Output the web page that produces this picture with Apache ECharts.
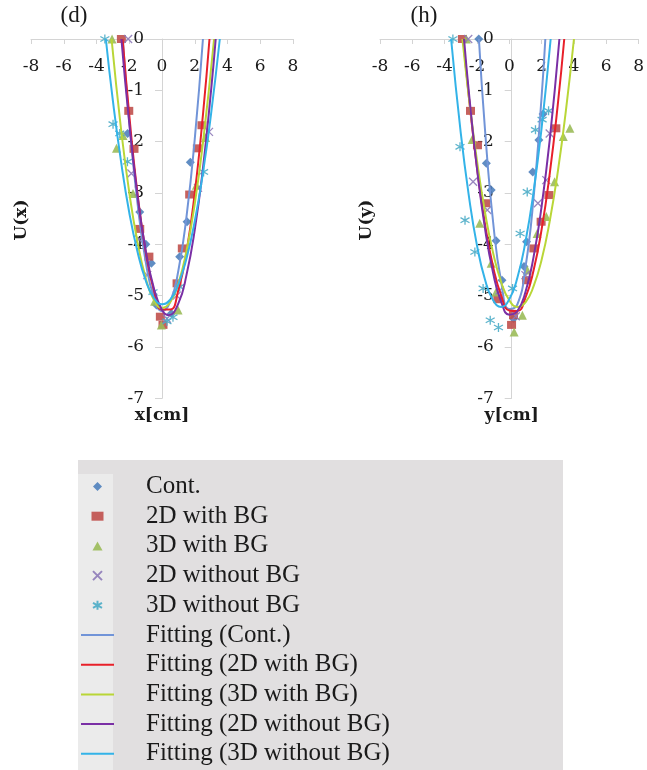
<!DOCTYPE html>
<html>
<head>
<meta charset="utf-8">
<script src="https://cdn.jsdelivr.net/npm/echarts/dist/echarts.min.js"></script>
<style>
html,body{margin:0;padding:0;background:#fff;}
#chart{width:647px;height:770px;}
</style>
</head>
<body>
<div id="chart"></div>
<script>
// ---------- names ----------
const markerNames = ['Cont.', '2D with BG', '3D with BG', '2D without BG', '3D without BG'];
const fitNames = ['Fitting (Cont.)', 'Fitting (2D with BG)', 'Fitting (3D with BG)', 'Fitting (2D without BG)', 'Fitting (3D without BG)'];
const panelTitles = ['(d)', '(h)'];
const yAxisTitles = ['U(x)', 'U(y)'];
const posAxisTitles = ['x[cm]', 'y[cm]'];

// ---------- panel (d): measured points [position cm, U] ----------
const dCont = [[-2.1,-1.84],[-1.36,-3.37],[-0.99,-4.00],[-0.65,-4.37],[-0.34,-5.18],[0.57,-5.35],[1.08,-4.24],[1.53,-3.56],[1.73,-2.40]];
const d2DBG = [[-2.48,0],[-2.03,-1.40],[-1.71,-2.14],[-1.36,-3.70],[-0.8,-4.24],[-0.1,-5.41],[0.06,-5.57],[0.92,-4.76],[1.24,-4.08],[1.69,-3.03],[2.16,-2.13],[2.44,-1.68]];
const d3DBG = [[-3.05,0],[-2.78,-2.13],[-2.38,-1.88],[-1.77,-3.01],[-0.45,-5.11],[-0.04,-5.57],[0.98,-5.28],[2.10,-2.85],[2.66,-1.92]];
const d2DNoBG = [[-2.07,0],[-1.87,-2.62],[-1.4,-3.9],[-0.9,-4.6],[0.3,-5.45],[0.9,-5.0],[2.2,-2.9],[2.87,-1.81]];
const d3DNoBG = [[-3.49,0],[-2.99,-1.66],[-2.58,-1.84],[-2.11,-2.39],[-0.55,-4.93],[0.3,-5.5],[0.67,-5.42],[1.08,-4.83],[2.54,-2.59]];

// ---------- panel (d): fitted curves ----------
const dFitCont = [[-2.4,0],[-2,-1.60],[-1.5,-3.19],[-1,-4.33],[-0.5,-5.03],[0,-5.30],[0.5,-5.12],[1,-4.51],[1.5,-3.45],[2,-1.95],[2.5,0]];
const dFit2DBG = [[-2.4,0],[-2,-1.48],[-1.5,-3.00],[-1,-4.14],[-0.5,-4.89],[0,-5.27],[0.5,-5.27],[1,-4.89],[1.5,-4.14],[2,-3.00],[2.5,-1.48],[2.9,0]];
const dFit3DBG = [[-3.08,0],[-2.5,-1.76],[-2,-2.99],[-1.5,-3.95],[-1,-4.65],[-0.5,-5.08],[0,-5.24],[0.5,-5.13],[1,-4.76],[1.5,-4.12],[2,-3.21],[2.5,-2.03],[3.18,0]];
const dFit2DNoBG = [[-2.48,0],[-2,-1.64],[-1.5,-3.04],[-1,-4.11],[-0.5,-4.85],[0,-5.28],[0.4,-5.38],[1,-5.15],[1.5,-4.59],[2,-3.72],[2.5,-2.52],[3,-0.99],[3.28,0]];
const dFit3DNoBG = [[-3.43,0],[-3,-1.20],[-2.5,-2.39],[-2,-3.38],[-1.5,-4.14],[-1,-4.70],[-0.5,-5.04],[0,-5.17],[0.5,-5.08],[1,-4.78],[1.5,-4.27],[2,-3.55],[2.5,-2.61],[3,-1.45],[3.53,0]];

// ---------- panel (h): measured points ----------
const hCont = [[-1.89,0],[-1.42,-2.42],[-1.12,-2.94],[-0.82,-3.93],[-0.45,-4.7],[0.26,-5.45],[0.91,-4.43],[1.07,-3.95],[1.45,-2.59],[1.83,-1.97],[2.09,-1.46]];
const h2DBG = [[-2.9,0],[-2.40,-1.40],[-1.97,-2.07],[-1.46,-3.20],[-0.71,-5.07],[0.14,-5.57],[0.26,-5.38],[1.07,-4.70],[1.52,-4.08],[1.97,-3.56],[2.45,-3.04],[2.88,-1.74]];
const h3DBG = [[-2.66,0],[-2.30,-1.96],[-1.83,-3.59],[-1.12,-4.37],[-0.82,-4.93],[0.3,-5.71],[0.81,-5.38],[1.11,-4.50],[1.72,-3.79],[2.29,-3.46],[2.80,-2.78],[3.34,-1.90],[3.75,-1.74]];
const h2DNoBG = [[-2.54,0],[-2.24,-2.78],[-1.36,-3.33],[-0.6,-4.9],[0.4,-5.4],[1.0,-4.6],[1.77,-3.20],[2.29,-2.75],[2.50,-1.84]];
const h3DNoBG = [[-3.49,0],[-3.05,-2.10],[-2.74,-3.53],[-2.13,-4.15],[-1.62,-4.86],[-1.18,-5.48],[-0.67,-5.62],[0.2,-4.86],[0.67,-3.79],[1.11,-2.98],[1.62,-1.77],[2.03,-1.57],[2.43,-1.40]];

// ---------- panel (h): fitted curves ----------
const hFitCont = [[-1.88,0],[-1.5,-1.78],[-1,-3.57],[-0.5,-4.73],[0,-5.26],[0.5,-5.17],[1,-4.45],[1.5,-3.10],[2,-1.12],[2.23,0]];
const hFit2DBG = [[-2.85,0],[-2.5,-1.13],[-2,-2.50],[-1.5,-3.61],[-1,-4.44],[-0.5,-5.00],[0,-5.29],[0.5,-5.30],[1,-5.04],[1.5,-4.51],[2,-3.71],[2.5,-2.63],[3,-1.28],[3.4,0]];
const hFit3DBG = [[-2.9,0],[-2.5,-1.14],[-2,-2.37],[-1.5,-3.38],[-1,-4.17],[-0.5,-4.74],[0,-5.09],[0.5,-5.22],[1,-5.13],[1.5,-4.82],[2,-4.30],[2.5,-3.55],[3,-2.59],[3.5,-1.40],[4.0,0]];
const hFit2DNoBG = [[-2.8,0],[-2.5,-1.04],[-2,-2.52],[-1.5,-3.70],[-1,-4.56],[-0.5,-5.12],[0,-5.37],[0.5,-5.30],[1,-4.93],[1.5,-4.25],[2,-3.26],[2.5,-1.97],[3.1,0]];
const hFit3DNoBG = [[-3.6,0],[-3,-1.84],[-2.5,-3.06],[-2,-4.02],[-1.5,-4.69],[-1,-5.09],[-0.5,-5.22],[0,-5.07],[0.5,-4.65],[1,-3.95],[1.5,-2.98],[2,-1.73],[2.56,0]];

// ---------- axis ranges ----------
const posMin = -8, posMax = 8, posStep = 2;
const uMin = -7, uMax = 0, uStep = 1;

// ---------- styles ----------
const markerStyles = [
  {symbol: 'diamond', size: 9, fill: '#4f81bd', legendIcon: 'path://M5,0L10,5L5,10L0,5Z'},
  {symbol: 'rect', size: [9, 8], fill: '#c0504d', legendIcon: 'path://M0,0L12,0L12,9L0,9Z'},
  {symbol: 'triangle', size: 9, fill: '#9bbb59', legendIcon: 'path://M5,0L10,9L0,9Z'},
  {symbol: 'path://M0,0L10,10M10,0L0,10', size: 8, stroke: '#8d7ab8'},
  {symbol: 'path://M5,0L5,10M0,2.2L10,7.8M0,7.8L10,2.2', size: 9, stroke: '#4bacc6'}
];
const fitColors = ['#7194d8', '#e8202a', '#b9d637', '#7a2fa5', '#33b3e8'];

const panelMarkers = [[dCont, d2DBG, d3DBG, d2DNoBG, d3DNoBG], [hCont, h2DBG, h3DBG, h2DNoBG, h3DNoBG]];
const panelFits = [[dFitCont, dFit2DBG, dFit3DBG, dFit2DNoBG, dFit3DNoBG], [hFitCont, hFit2DBG, hFit3DBG, hFit2DNoBG, hFit3DNoBG]];

const serifTick = 'DejaVu Serif';
const grids = [
  {left: 31, top: 39, width: 262, height: 359.3},
  {left: 380, top: 39, width: 263.4, height: 359.3}
];

const xAxes = [], yAxes = [], series = [];
for (let p = 0; p < 2; p++) {
  xAxes.push({
    gridIndex: p, type: 'value', min: posMin, max: posMax, interval: posStep,
    position: 'top',
    axisLine: {onZero: false, lineStyle: {color: '#d4d4d4', width: 1}},
    axisTick: {show: true, inside: true, length: 5, lineStyle: {color: '#d4d4d4'}},
    axisLabel: {inside: true, margin: 19, fontFamily: serifTick, fontSize: 17, color: '#1a1a1a'},
    splitLine: {show: false}
  });
  yAxes.push({
    gridIndex: p, type: 'value', min: uMin, max: uMax, interval: uStep,
    position: 'left', offset: -grids[p].width / 2,
    axisLine: {onZero: false, lineStyle: {color: '#d4d4d4', width: 1}},
    axisTick: {show: true, length: 7, lineStyle: {color: '#d4d4d4'}},
    axisLabel: {margin: 18, fontFamily: serifTick, fontSize: 17, color: '#1a1a1a'},
    splitLine: {show: false},
    name: posAxisTitles[p], nameLocation: 'start', nameGap: 6,
    nameTextStyle: {fontFamily: serifTick, fontSize: 17, color: '#1a1a1a', fontWeight: 'bold'}
  });
  for (let k = 0; k < 5; k++) {
    const ms = markerStyles[k];
    series.push({
      type: 'scatter', name: markerNames[k], xAxisIndex: p, yAxisIndex: p,
      data: panelMarkers[p][k], symbol: ms.symbol, symbolSize: ms.size,
      itemStyle: ms.stroke ? {color: 'rgba(0,0,0,0)', borderColor: ms.stroke, borderWidth: 1.3, opacity: 0.9}
                           : {color: ms.fill, opacity: 0.9},
      z: 2
    });
  }
  for (let k = 0; k < 5; k++) {
    series.push({
      type: 'line', name: fitNames[k], xAxisIndex: p, yAxisIndex: p,
      data: panelFits[p][k], smooth: true, symbol: 'none', showSymbol: false,
      lineStyle: {color: fitColors[k], width: 2},
      itemStyle: {color: fitColors[k]},
      z: 3
    });
  }
}

const legendData = markerNames.map(function (n, k) {
    const item = {name: n};
    if (markerStyles[k].legendIcon) item.icon = markerStyles[k].legendIcon;
    return item;
  })
  .concat(fitNames.map(function (n) { return {name: n, itemStyle: {opacity: 0}}; }));

const chart = echarts.init(document.getElementById('chart'), null, {renderer: 'canvas'});
chart.setOption({
  animation: false,
  backgroundColor: '#ffffff',
  grid: grids,
  xAxis: xAxes,
  yAxis: yAxes,
  legend: {
    orient: 'vertical', left: 80, top: 474, padding: 0,
    itemWidth: 33, itemHeight: 9, itemGap: 4.7, symbolKeepAspect: true,
    data: legendData,
    textStyle: {fontFamily: 'Liberation Serif', fontSize: 25, lineHeight: 25, color: '#1a1a1a', padding: [0, 0, 0, 27]}
  },
  graphic: [
    {type: 'rect', z: -10, shape: {x: 78, y: 460, width: 485, height: 310}, style: {fill: '#e1dfe0'}},
    {type: 'rect', z: -9, shape: {x: 78, y: 474, width: 35, height: 296}, style: {fill: '#ebebeb'}},
    {type: 'text', x: 74, y: 16, style: {text: panelTitles[0], font: '23px "Liberation Serif"', fill: '#1a1a1a', align: 'center', verticalAlign: 'middle'}},
    {type: 'text', x: 424, y: 16, style: {text: panelTitles[1], font: '23px "Liberation Serif"', fill: '#1a1a1a', align: 'center', verticalAlign: 'middle'}},
    {type: 'text', x: 22, y: 220, rotation: Math.PI / 2, style: {text: yAxisTitles[0], font: 'bold 17px "DejaVu Serif"', fill: '#1a1a1a', align: 'center', verticalAlign: 'middle'}},
    {type: 'text', x: 367, y: 220, rotation: Math.PI / 2, style: {text: yAxisTitles[1], font: 'bold 17px "DejaVu Serif"', fill: '#1a1a1a', align: 'center', verticalAlign: 'middle'}}
  ],
  series: series
});
</script>
</body>
</html>
